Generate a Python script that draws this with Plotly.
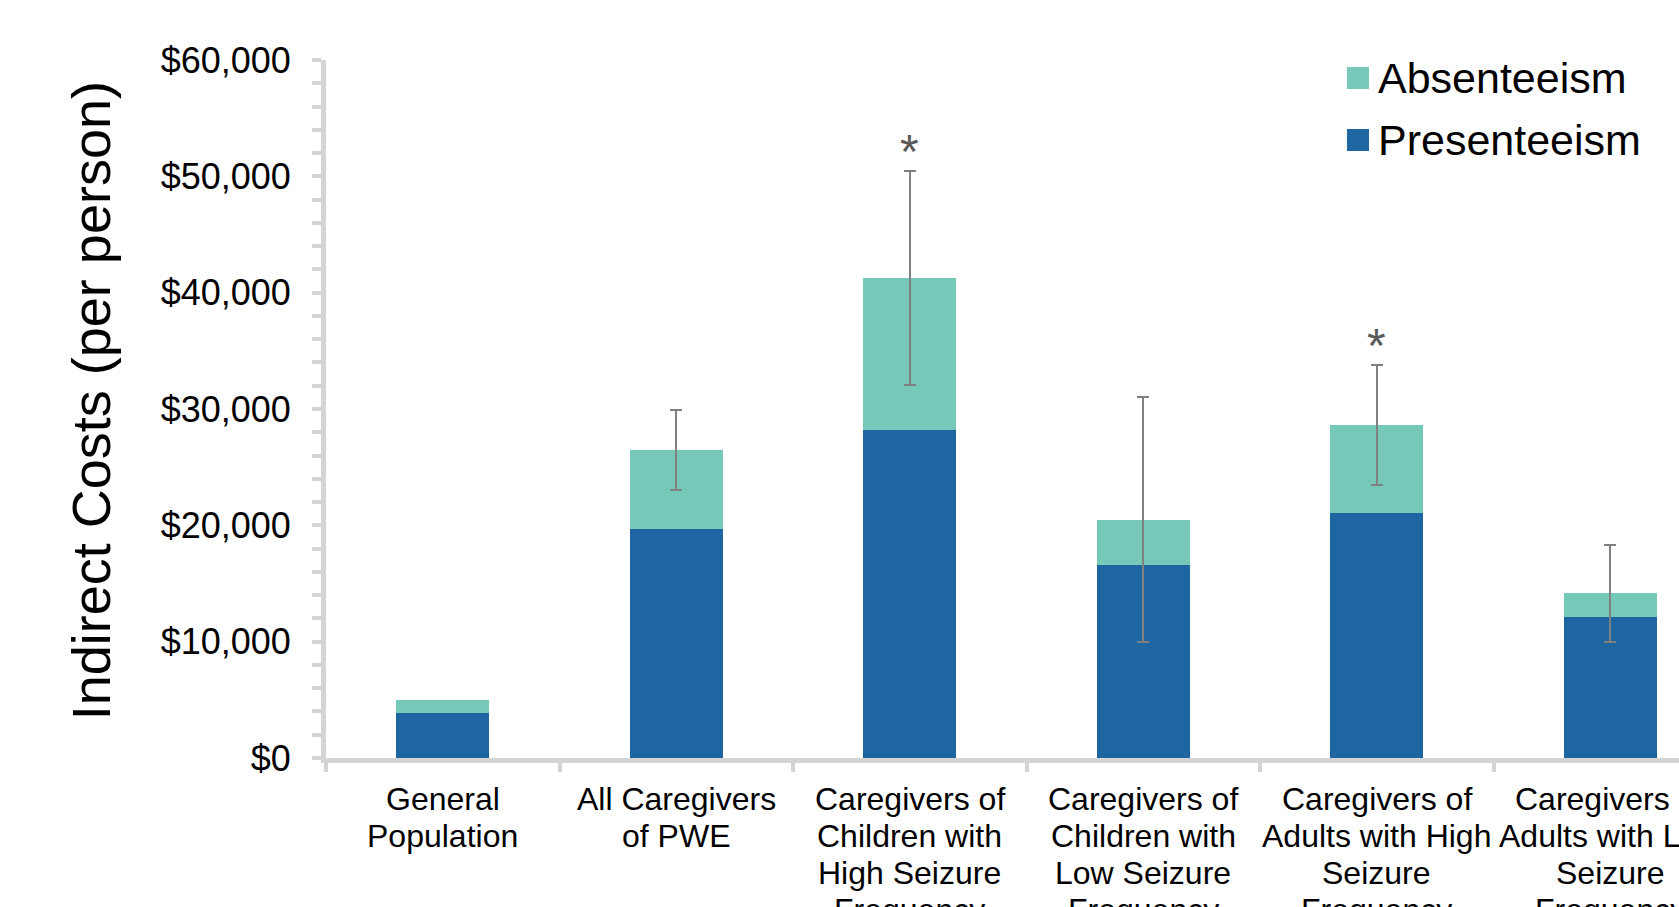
import numpy as np
import plotly.graph_objects as go

# ---- data ----
categories = [
    "General<br>Population",
    "All Caregivers<br>of PWE",
    "Caregivers of<br>Children with<br>High Seizure<br>Frequency",
    "Caregivers of<br>Children with<br>Low Seizure<br>Frequency",
    "Caregivers of<br>Adults with High<br>Seizure<br>Frequency",
    "Caregivers of<br>Adults with Low<br>Seizure<br>Frequency",
]
presenteeism = [3900, 19650, 28200, 16550, 21100, 12100]
absenteeism = [1100, 6850, 13050, 3950, 7550, 2050]
total_error = np.array([np.nan, 3450, 9200, 10550, 5150, 4150])
significant = [False, False, True, False, True, False]
series_names = ["Absenteeism", "Presenteeism"]
y_ticks = [0, 10000, 20000, 30000, 40000, 50000, 60000]
y_title = "Indirect Costs (per person)"

# ---- style / layout ----
COL_ABS = "#76C8B8"
COL_PRES = "#1D66A1"
AXIS_COL = "#D4D4D4"
ERR_COL = "#808080"
FONT = "Arial, Liberation Sans, sans-serif"

W, H = 1679, 907
L, T, B = 326, 60, 149
PW, PH = W - L, H - T - B
CAT_W = 233.5


def px(xf):
    return (xf - L) / PW


def py(yf):
    return (H - B - yf) / PH


x_idx = list(range(len(categories)))

fig = go.Figure()
fig.add_trace(go.Bar(
    x=x_idx, y=presenteeism, name=series_names[1],
    marker=dict(color=COL_PRES, line=dict(width=0)),
))
fig.add_trace(go.Bar(
    x=x_idx, y=absenteeism, name=series_names[0],
    marker=dict(color=COL_ABS, line=dict(width=0)),
    error_y=dict(type="data", array=total_error, symmetric=True,
                 color=ERR_COL, thickness=2, width=6, visible=True),
))

annotations = []
# category labels, one annotation per line (tight line spacing)
for i, lab in enumerate(categories):
    for k, line in enumerate(lab.split("<br>")):
        annotations.append(dict(
            x=i, xref="x", y=0, yref="paper", text=line, showarrow=False,
            xanchor="center", yanchor="middle", yshift=-41.3 - 37 * k,
            font=dict(family=FONT, size=32, color="#000000"),
        ))
# significance asterisks
for i, sig in enumerate(significant):
    if sig:
        top = presenteeism[i] + absenteeism[i] + total_error[i]
        annotations.append(dict(
            x=i, xref="x", y=top, yref="y", text="*", showarrow=False,
            xanchor="center", yanchor="bottom", yshift=-9,
            font=dict(family=FONT, size=48, color="#595959"),
        ))
# y axis title
annotations.append(dict(
    x=px(90.8), xref="paper", y=py(400.5), yref="paper", text=y_title,
    textangle=-90, showarrow=False, xanchor="center", yanchor="middle",
    font=dict(family=FONT, size=54, color="#000000"),
))
# legend (manual, large swatches)
legend_items = [(series_names[0], COL_ABS, 78), (series_names[1], COL_PRES, 140)]
shapes = []
for name, col, yc in legend_items:
    shapes.append(dict(type="rect", xref="paper", yref="paper",
                       x0=px(1347), x1=px(1369), y0=py(yc + 11), y1=py(yc - 11),
                       fillcolor=col, line=dict(width=0)))
    annotations.append(dict(
        x=px(1376), xref="paper", y=py(yc), yref="paper",
        text=name, showarrow=False, xanchor="left", yanchor="middle",
        font=dict(family=FONT, size=43, color="#000000"),
    ))

fig.update_layout(
    barmode="stack",
    bargap=0.6,
    width=W, height=H,
    margin=dict(l=L, r=0, t=T, b=B, pad=0, autoexpand=False),
    paper_bgcolor="white", plot_bgcolor="white",
    showlegend=False,
    font=dict(family=FONT, color="#000000"),
    annotations=annotations,
    shapes=shapes,
    xaxis=dict(
        range=[-0.5, -0.5 + PW / CAT_W], type="linear", tickmode="array",
        tickvals=[i - 0.5 for i in range(len(categories) + 1)],
        showticklabels=False, ticks="outside", ticklen=9, tickwidth=4,
        tickcolor=AXIS_COL, showline=True, linecolor=AXIS_COL, linewidth=5,
        showgrid=False, zeroline=False, fixedrange=True,
    ),
    yaxis=dict(
        range=[0, 60000], tickmode="array", tickvals=y_ticks,
        ticktext=["${:,}".format(v) for v in y_ticks],
        tickfont=dict(family=FONT, size=36, color="#000000"),
        ticks="outside", ticklen=9, tickwidth=4, tickcolor=AXIS_COL,
        ticklabelstandoff=14,
        minor=dict(dtick=2000, ticks="outside", ticklen=9, tickwidth=4, tickcolor=AXIS_COL,
                   showgrid=False),
        showline=True, linecolor=AXIS_COL, linewidth=5,
        showgrid=False, zeroline=False,
    ),
)

fig.write_html(
    "out.html",
    config={"displayModeBar": False},
    post_script="document.body.style.margin='0';document.body.style.overflow='hidden';",
)
